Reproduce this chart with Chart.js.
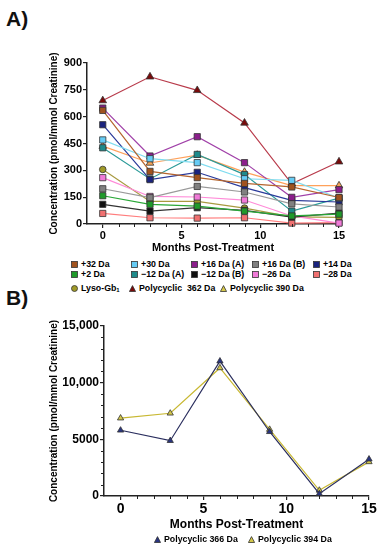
<!DOCTYPE html>
<html>
<head>
<meta charset="utf-8">
<script src="https://cdn.jsdelivr.net/npm/chart.js@4.4.1/dist/chart.umd.min.js"></script>
<style>
    body { margin: 0; width: 383px; height: 550px; background: #fff; position: relative; overflow: hidden;
           font-family: 'Liberation Sans', Arial, sans-serif; color: #111; }
    .panel { position: absolute; left: 6px; font-weight: bold; font-size: 21px; line-height: 21px; }
    canvas { position: absolute; left: 0; }
    .leg { position: absolute; height: 10px; font-weight: bold; font-size: 8.8px; white-space: nowrap;
           display: flex; align-items: center; color: #000; }
    .leg svg { margin-right: 3px; flex: none; }
    .leg sub { font-size: 6px; vertical-align: -1px; }
</style>
</head>
<body>
<div class="panel" style="top:8px">A)</div>
<div class="panel" style="top:287px">B)</div>
<canvas id="chartA" width="383" height="216" style="top:40px"></canvas>
<canvas id="chartB" width="383" height="235" style="top:300px"></canvas>
<div id="legendA"></div>
<div id="legendB"></div>
<script>
// ---- data ----
const months = [0, 3, 6, 9, 12, 15];
const xTicks = [0, 5, 10, 15];
const yTicksA = [0, 150, 300, 450, 600, 750, 900];
const yTicksB = [0, 5000, 10000, 15000];
const yTickLabelsB = ['0', '5000', '10,000', '15,000'];

const namesA = ['+32 Da', '+30 Da', '+16 Da (A)', '+16 Da (B)', '+14 Da',
                '+2 Da', '\u221212 Da (A)', '\u221212 Da (B)', '\u221226 Da', '\u221228 Da',
                'Lyso-Gb1', 'Polycyclic  362 Da', 'Polycyclic 390 Da'];
const plus32  = [635, 294, 259, 227, 207, 148];
const plus30  = [470, 365, 343, 253, 244, 145];
const plus16A = [648, 380, 488, 343, 149, 192];
const plus16B = [197, 147, 210, 179, 113, 95];
const plus14  = [555, 248, 289, 203, 132, 123];
const plus2   = [158, 110, 100, 72, 45, 55];
const minus12A = [426, 252, 389, 276, 72, 145];
const minus12B = [110, 72, 91, 76, 39, 61];
const minus26 = [259, 154, 151, 134, 45, 5];
const minus28 = [59, 35, 33, 35, 5, 8];
const lysoGb1 = [305, 126, 126, 89, 40, 37];
const poly362 = [690, 823, 747, 565, 225, 348];
const poly390 = [435, 341, 385, 290, 215, 214];

const namesB = ['Polycyclic 366 Da', 'Polycyclic 394 Da'];
const poly366 = [5800, 4880, 11900, 5670, 200, 3250];
const poly394 = [6870, 7300, 11300, 5870, 500, 3010];

// ---- styles ----
const valuesA = [plus32, plus30, plus16A, plus16B, plus14, plus2, minus12A, minus12B,
                 minus26, minus28, lysoGb1, poly362, poly390];
const fillA = ['#a0521e', '#66ccf5', '#8b1e8b', '#808080', '#1a237e', '#1f9a2a', '#1f8a8a',
               '#111111', '#f07ad8', '#f07070', '#a09a28', '#7a0a0a', '#f6a458'];
const lineA = ['#b5652e', '#7fdcf0', '#a040a8', '#9a9a9a', '#2a3a9a', '#2aa838', '#2a9a98',
               '#333333', '#ff8ad8', '#ff7d7d', '#a89a40', '#b83a4a', '#ffa15a'];
const shapeA = ['rect', 'rect', 'rect', 'rect', 'rect', 'rect', 'rect', 'rect', 'rect', 'rect',
                'circle', 'triangle', 'triangle'];
const legendFillA = fillA.slice(0, 12).concat(['#d6c84a']);
const legendPosA = [[71, 264], [131, 264], [191, 264], [252, 264], [313, 264],
                    [71, 274], [131, 274], [191, 274], [252, 274], [313, 274],
                    [71, 288], [129, 288], [220, 288]];

const valuesB = [poly366, poly394];
const fillB = ['#2a3580', '#d2c64a'];
const lineB = ['#2a2e5e', '#c8b832'];
const legendPosB = [[154, 539], [248, 539]];

const BOLD = "'Liberation Sans', Arial, sans-serif";

// minor tick marks on the axes
const minorTicks = {
    id: 'minorTicks',
    afterDraw(chart, args, opts) {
        const ctx = chart.ctx;
        const xs = chart.scales.x, ys = chart.scales.y;
        ctx.save();
        ctx.strokeStyle = '#222';
        ctx.lineWidth = 1;
        ctx.beginPath();
        if (opts.x) {
            for (let v = 0; v <= xs.max; v += opts.x) {
                if (v % 5 === 0) continue;
                const px = Math.round(xs.getPixelForValue(v)) + 0.5;
                ctx.moveTo(px, chart.chartArea.bottom);
                ctx.lineTo(px, chart.chartArea.bottom + 3);
            }
        }
        if (opts.y) {
            for (let v = 0; v <= ys.max; v += opts.y) {
                if (yTicksB.includes(v)) continue;
                const py = Math.round(ys.getPixelForValue(v)) + 0.5;
                ctx.moveTo(chart.chartArea.left, py);
                ctx.lineTo(chart.chartArea.left - 3, py);
            }
        }
        ctx.stroke();
        ctx.restore();
    }
};

function axisX(tickSize, titleSize, titlePad, yWidth) {
    return {
        type: 'linear', min: -1, max: 15,
        afterBuildTicks: s => { s.ticks = xTicks.map(v => ({ value: v })); },
        afterFit: s => { s.height = yWidth; },
        border: { color: '#222', width: 1.5 },
        grid: { drawOnChartArea: false, drawTicks: true, tickLength: 4, color: '#222', lineWidth: 1.2 },
        ticks: { color: '#000', padding: 1, maxRotation: 0, font: { family: BOLD, size: tickSize, weight: 'bold' } },
        title: { display: true, text: 'Months Post-Treatment', color: '#000',
                 padding: { top: 0, bottom: titlePad }, font: { family: BOLD, size: titleSize, weight: 'bold' } }
    };
}

function axisY(ticks, labels, max, tickSize, width) {
    return {
        type: 'linear', min: 0, max: max,
        afterBuildTicks: s => { s.ticks = ticks.map(v => ({ value: v })); },
        afterFit: s => { s.width = width; },
        border: { color: '#222', width: 1.5 },
        grid: { drawOnChartArea: false, drawTicks: true, tickLength: 4, color: '#222', lineWidth: 1.2 },
        ticks: { color: '#000', padding: 1,
                 callback: (v) => labels ? labels[ticks.indexOf(v)] : String(v),
                 font: { family: BOLD, size: tickSize, weight: 'bold' } },
        title: { display: true, text: 'Concentration (pmol/mmol Creatinine)', color: '#000',
                 padding: { top: 48, bottom: 0 }, font: { family: BOLD, size: 10, weight: 'bold' } }
    };
}

function makeSets(values, fills, lines, shapes, radius) {
    return values.map((vals, i) => ({
        data: months.map((m, j) => ({ x: m, y: vals[j] })),
        borderColor: lines[i],
        borderWidth: 1.2,
        backgroundColor: fills[i],
        pointBackgroundColor: fills[i],
        pointBorderColor: '#333',
        pointBorderWidth: 0.8,
        pointStyle: shapes[i],
        pointRadius: shapes[i] === 'circle' ? 3.3 : radius,
        tension: 0,
        clip: false
    }));
}

new Chart(document.getElementById('chartA').getContext('2d'), {
    type: 'line',
    data: { datasets: makeSets(valuesA, fillA, lineA, shapeA, 4.4) },
    options: {
        responsive: false, animation: false,
        layout: { padding: { top: 23, right: 44, left: 0, bottom: 0 } },
        plugins: { legend: { display: false }, tooltip: { enabled: false }, minorTicks: { x: 1 } },
        scales: { x: axisX(11, 11, 1.4, 32), y: axisY(yTicksA, null, 900, 11, 87) }
    },
    plugins: [minorTicks]
});

new Chart(document.getElementById('chartB').getContext('2d'), {
    type: 'line',
    data: { datasets: makeSets(valuesB, fillB, lineB, ['triangle', 'triangle'], 3.6) },
    options: {
        responsive: false, animation: false,
        layout: { padding: { top: 26, right: 14, left: 0, bottom: 0 } },
        plugins: { legend: { display: false }, tooltip: { enabled: false }, minorTicks: { x: 1, y: 1000 } },
        scales: { x: axisX(14, 12, 2.8, 39), y: axisY(yTicksB, yTickLabelsB, 15000, 12, 104) }
    },
    plugins: [minorTicks]
});

// ---- legends ----
function marker(shape, fill) {
    let s;
    if (shape === 'rect') s = `<rect x="0.5" y="0.5" width="6" height="6" fill="${fill}" stroke="#333" stroke-width="0.8"/>`;
    else if (shape === 'circle') s = `<circle cx="3.5" cy="3.5" r="3" fill="${fill}" stroke="#333" stroke-width="0.8"/>`;
    else s = `<polygon points="3.5,0.6 6.6,6.5 0.4,6.5" fill="${fill}" stroke="#333" stroke-width="0.8"/>`;
    return `<svg width="7" height="7" viewBox="0 0 7 7">${s}</svg>`;
}
function buildLegend(el, names, shapes, fills, pos) {
    names.forEach((name, i) => {
        const d = document.createElement('div');
        d.className = 'leg';
        d.style.left = pos[i][0] + 'px';
        d.style.top = (pos[i][1] - 5) + 'px';
        const label = name.replace(/Gb1$/, 'Gb<sub>1</sub>').replace(/  /g, ' &nbsp;');
        d.innerHTML = marker(shapes[i], fills[i]) + '<span>' + label + '</span>';
        el.appendChild(d);
    });
}
buildLegend(document.getElementById('legendA'), namesA, shapeA, legendFillA, legendPosA);
buildLegend(document.getElementById('legendB'), namesB, ['triangle', 'triangle'], fillB, legendPosB);
</script>
</body>
</html>
